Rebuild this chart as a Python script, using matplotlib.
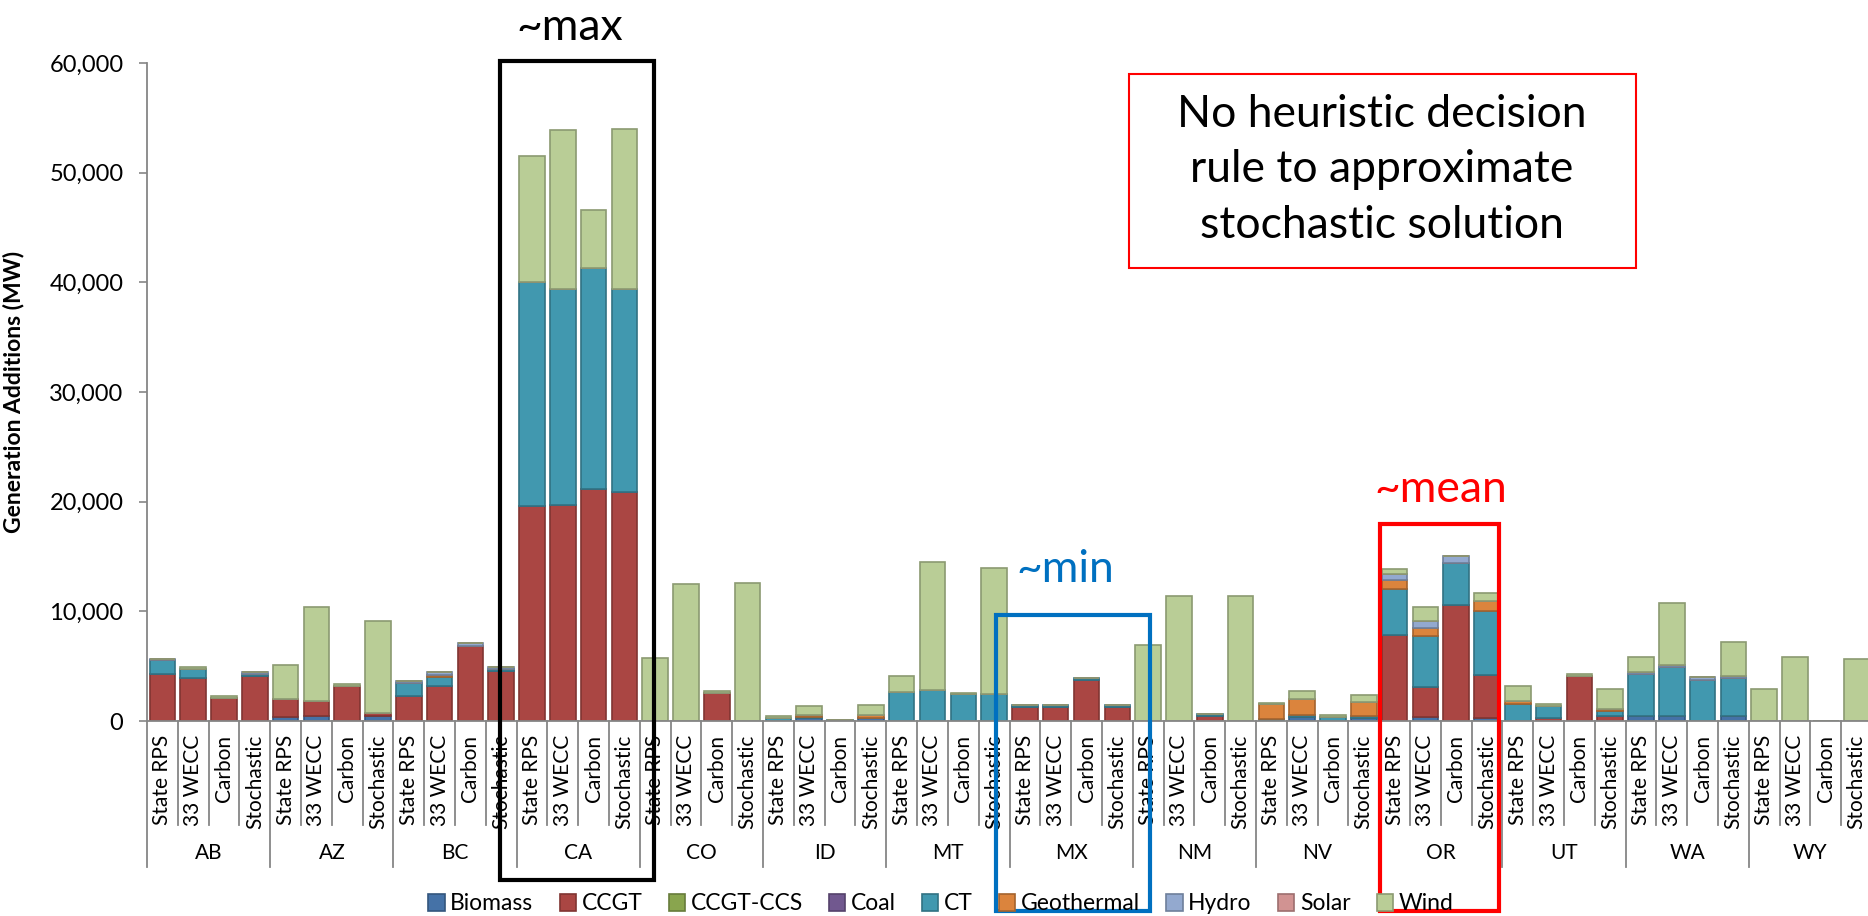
import matplotlib
matplotlib.use("Agg")
import matplotlib.pyplot as plt
import numpy as np
from matplotlib.patches import Rectangle
from matplotlib.lines import Line2D
from matplotlib.ticker import FuncFormatter, MultipleLocator
import matplotlib.colors as mcolors

plt.rcParams['font.family'] = ['Lato', 'DejaVu Sans']

regions = ["AB", "AZ", "BC", "CA", "CO", "ID", "MT", "MX", "NM", "NV", "OR", "UT", "WA", "WY"]
scenarios = ["State RPS", "33 WECC", "Carbon", "Stochastic"]
technologies = ["Biomass", "CCGT", "CCGT-CCS", "Coal", "CT", "Geothermal", "Hydro", "Solar", "Wind"]

# values (MW), 4 scenarios per region, region order as above
biomass = [0, 0, 0, 0,  360, 450, 0, 430,  0, 0, 0, 0,  0, 0, 0, 0,
           0, 0, 0, 0,  0, 250, 0, 230,  0, 0, 0, 0,  0, 0, 0, 0,
           0, 0, 0, 0,  0, 365, 0, 275,  0, 330, 0, 300,  0, 0, 0, 0,
           425, 425, 0, 490,  0, 0, 0, 0]
ccgt = [4300, 3920, 2070, 4130,  1650, 1370, 3160, 300,  2310, 3160, 6870, 4560,
        19600, 19700, 21200, 20900,  0, 0, 2550, 0,  0, 0, 0, 0,  0, 0, 0, 0,
        1280, 1280, 3770, 1280,  0, 0, 425, 0,  0, 0, 0, 0,  7840, 2800, 10580, 3900,
        0, 270, 4070, 490,  0, 0, 0, 0,  0, 0, 0, 0]
ccgt_ccs = [0] * 56
coal = [0] * 56
ct = [1230, 820, 0, 150,  0, 0, 0, 0,  1160, 850, 0, 210,  20400, 19700, 20100, 18500,
      0, 0, 0, 0,  240, 80, 100, 80,  2645, 2860, 2430, 2430,  150, 150, 150, 150,
      0, 0, 200, 0,  150, 215, 400, 150,  4200, 4620, 3800, 5865,  1550, 1070, 0, 390,
      3860, 4500, 3710, 3400,  0, 0, 0, 0]
geothermal = [0, 0, 0, 0,  0, 0, 0, 0,  0, 230, 0, 0,  0, 0, 0, 0,
              0, 0, 0, 0,  0, 230, 0, 220,  0, 0, 0, 0,  0, 0, 0, 0,
              0, 0, 0, 0,  1370, 1420, 0, 1275,  820, 760, 0, 880,  240, 0, 0, 245,
              0, 0, 0, 0,  0, 0, 0, 0]
hydro = [120, 0, 0, 160,  0, 0, 0, 0,  180, 200, 200, 130,  0, 0, 0, 0,
         0, 0, 0, 0,  0, 0, 0, 0,  0, 0, 0, 0,  0, 0, 0, 0,
         0, 0, 0, 0,  0, 0, 0, 0,  540, 610, 695, 0,  0, 0, 0, 0,
         180, 210, 300, 180,  0, 0, 0, 0]
solar = [0] * 56
wind = [0, 160, 200, 0,  3100, 8550, 215, 8420,  0, 0, 0, 0,  11500, 14500, 5300, 14550,
        5745, 12490, 155, 12550,  210, 850, 0, 900,  1425, 11610, 90, 11520,  0, 0, 0, 0,
        6930, 11430, 0, 11430,  150, 700, 150, 700,  490, 1275, 0, 700,  1370, 180, 215, 1795,
        1340, 5620, 0, 3100,  2920, 5835, 0, 5650]

series = [biomass, ccgt, ccgt_ccs, coal, ct, geothermal, hydro, solar, wind]
colors = ["#4572A7", "#AA4643", "#89A54E", "#71588F", "#4198AF", "#DB843D", "#93A9CF", "#D19392", "#B9CD96"]

W, H = 1868, 916
fig = plt.figure(figsize=(W / 100, H / 100), dpi=100)
ax_left, ax_right, ax_zero, ax_top = 147, 1872, 721, 63
ax = fig.add_axes([ax_left / W, (H - ax_zero) / H, (ax_right - ax_left) / W, (ax_zero - ax_top) / H])

n = len(regions) * len(scenarios)
x = np.arange(n)
bottom = np.zeros(n)
for name, vals, col in zip(technologies, series, colors):
    v = np.array(vals, dtype=float)
    edge = tuple(c * 0.75 for c in mcolors.to_rgb(col))
    ax.bar(x, v, bottom=bottom, width=0.83, color=col, edgecolor=edge, linewidth=1.2, label=name)
    bottom += v

ax.set_xlim(-0.5, n - 0.5)
ax.set_ylim(0, 60000)
ax.yaxis.set_major_locator(MultipleLocator(10000))
ax.yaxis.set_major_formatter(FuncFormatter(lambda v, p: f"{int(v):,}"))
ax.tick_params(axis='y', labelsize=17, length=6, width=1.2, color="#868686", pad=11)
for s in ["top", "right"]:
    ax.spines[s].set_visible(False)
for s in ["left", "bottom"]:
    ax.spines[s].set_color("#868686")
    ax.spines[s].set_linewidth(1.3)

ax.set_xticks(x)
ax.set_xticklabels(scenarios * len(regions), rotation=90, fontsize=15)
ax.tick_params(axis='x', length=0, pad=10)

ax.set_ylabel("Generation Additions (MW)", fontsize=16.5, fontweight='bold')
ax.yaxis.set_label_coords(-(147 - 24) / (ax_right - ax_left), 0.5)

# separators and region labels
axh = ax_zero - ax_top
trans = ax.get_xaxis_transform()
inner_end = -(825 - ax_zero) / axh
group_end = -(867 - ax_zero) / axh
for b in range(n + 1):
    xb = b - 0.5
    yend = group_end if b % 4 == 0 else inner_end
    ax.add_line(Line2D([xb, xb], [0, yend], transform=trans, color="#868686", lw=1.3, clip_on=False))
for g, r in enumerate(regions):
    ax.text(4 * g + 1.5, -(853 - ax_zero) / axh, r, transform=trans, ha='center', va='center', fontsize=15)

# legend
handles, labels = ax.get_legend_handles_labels()
fig.legend(handles, labels, loc='center', bbox_to_anchor=(941 / W, 1 - 904 / H), ncol=9, frameon=False,
           fontsize=16.5, handlelength=0.7, handleheight=0.7, handletextpad=0.25, columnspacing=1.15,
           borderpad=0, borderaxespad=0)

# annotations (figure pixel coordinates)
def frect(x0, y0, x1, y1, color, lw):
    fig.patches.append(Rectangle((x0 / W, 1 - y1 / H), (x1 - x0) / W, (y1 - y0) / H,
                                 transform=fig.transFigure, fill=False, edgecolor=color, linewidth=lw))

frect(500, 61, 654, 880, "black", 3)
fig.text(570 / W, 1 - 40 / H, "~max", ha='center', va='baseline', fontsize=32, color='black')
frect(996, 615, 1150, 911, "#0070C0", 3)
fig.text(1065 / W, 1 - 582 / H, "~min", ha='center', va='baseline', fontsize=32, color='#0070C0')
frect(1380, 524, 1499, 911, "#FF0000", 3)
fig.text(1441 / W, 1 - 502 / H, "~mean", ha='center', va='baseline', fontsize=32, color='#FF0000')
frect(1129, 74, 1636, 268, "#FF0000", 1.5)
fig.text(1382 / W, 1 - 170 / H, "No heuristic decision\nrule to approximate\nstochastic solution",
         ha='center', va='center', fontsize=32, linespacing=1.45, color='black')

fig.savefig("out.png", dpi=100)
